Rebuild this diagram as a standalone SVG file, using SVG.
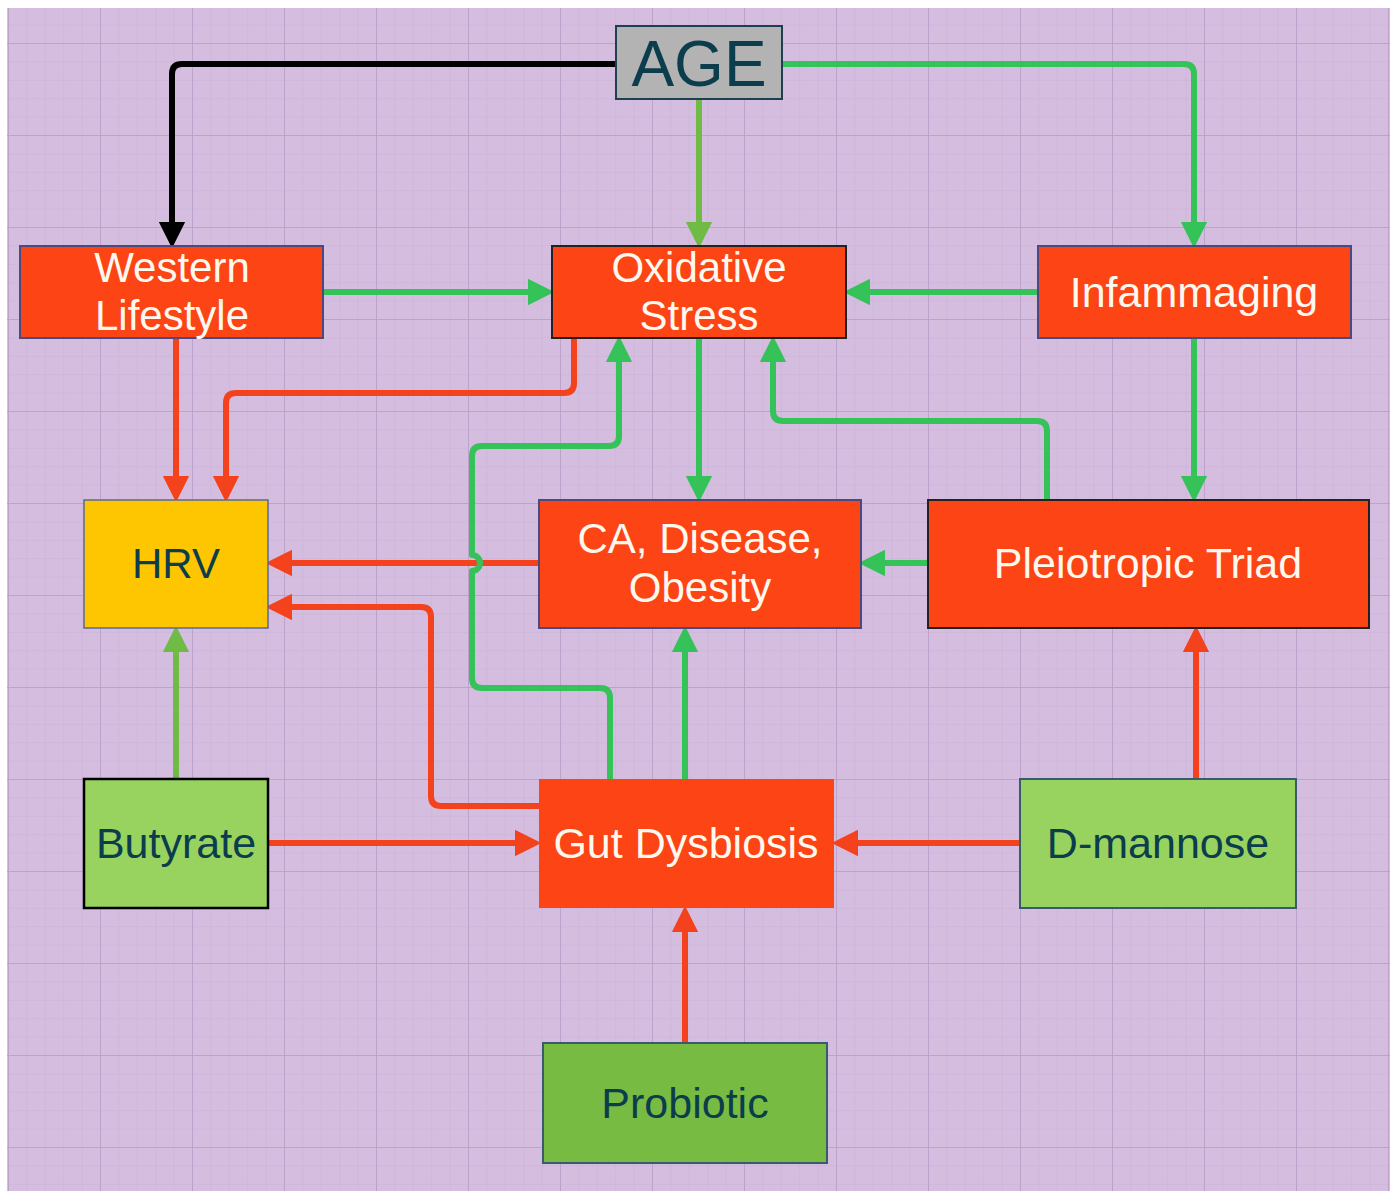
<svg xmlns="http://www.w3.org/2000/svg" width="1396" height="1191" viewBox="0 0 1396 1191">
<style>
.t{font-family:"Liberation Sans",Arial,sans-serif;text-anchor:middle}
.w{fill:#fff8ef}
.d{fill:#0c3d4c}
.red{fill:#fc4414}
.c{fill:none;stroke-width:6;stroke-linejoin:round}
.cr{stroke:#f4421c}
.cg{stroke:#35c258}
.co{stroke:#6fbb46}
.ck{stroke:#000}
</style>
<defs>
<pattern id="minor" x="8" y="43" width="18.4" height="18.4" patternUnits="userSpaceOnUse">
<path d="M0,0 H18.4 M0,0 V18.4" stroke="#c9aed6" stroke-width="1" fill="none"/>
</pattern>
<pattern id="major" x="8" y="43" width="92" height="92" patternUnits="userSpaceOnUse">
<path d="M0,0 H92 M0,0 V92" stroke="#b99cc8" stroke-width="1.5" fill="none"/>
</pattern>
<marker id="ar" viewBox="0 0 26 26" refX="2" refY="13" markerWidth="26" markerHeight="26" markerUnits="userSpaceOnUse" orient="auto"><path d="M0,1 L24,13 L0,25 Z" fill="#f4421c" stroke="#f4421c" stroke-width="2" stroke-linejoin="round"/></marker>
<marker id="ag" viewBox="0 0 26 26" refX="2" refY="13" markerWidth="26" markerHeight="26" markerUnits="userSpaceOnUse" orient="auto"><path d="M0,1 L24,13 L0,25 Z" fill="#35c258" stroke="#35c258" stroke-width="2" stroke-linejoin="round"/></marker>
<marker id="ao" viewBox="0 0 26 26" refX="2" refY="13" markerWidth="26" markerHeight="26" markerUnits="userSpaceOnUse" orient="auto"><path d="M0,1 L24,13 L0,25 Z" fill="#6fbb46" stroke="#6fbb46" stroke-width="2" stroke-linejoin="round"/></marker>
<marker id="ak" viewBox="0 0 26 26" refX="2" refY="13" markerWidth="26" markerHeight="26" markerUnits="userSpaceOnUse" orient="auto"><path d="M0,1 L24,13 L0,25 Z" fill="#000" stroke="#000" stroke-width="2" stroke-linejoin="round"/></marker>
</defs>
<rect x="0" y="0" width="1396" height="1191" fill="#ffffff"/>
<rect x="7" y="8" width="1383" height="1183" fill="#d5bde0"/>
<rect x="7" y="8" width="1383" height="1183" fill="url(#minor)"/>
<rect x="7" y="8" width="1383" height="1183" fill="url(#major)"/>

<g id="connectors">
<path class="c ck" d="M616,64 H182 Q172,64 172,74 V224" marker-end="url(#ak)"/>
<path class="c co" d="M699,99 V224" marker-end="url(#ao)"/>
<path class="c cg" d="M782,64 H1184 Q1194,64 1194,74 V224" marker-end="url(#ag)"/>
<path class="c cg" d="M323,292 H530" marker-end="url(#ag)"/>
<path class="c cg" d="M1038,292 H868" marker-end="url(#ag)"/>
<path class="c cr" d="M176,338 V478" marker-end="url(#ar)"/>
<path class="c cr" d="M574,338 V383 Q574,393 564,393 H236 Q226,393 226,403 V478" marker-end="url(#ar)"/>
<path class="c cg" d="M699,338 V478" marker-end="url(#ag)"/>
<path class="c cg" d="M1194,338 V478" marker-end="url(#ag)"/>
<path class="c cg" d="M1047,500 V431 Q1047,421 1037,421 H783 Q773,421 773,411 V360" marker-end="url(#ag)"/>
<path class="c cr" d="M539,563 H290" marker-end="url(#ar)"/>
<path class="c cg" d="M610,779 V698 Q610,688 600,688 H482 Q472,688 472,678 V571 A8,8 0 0 0 472,555 V456 Q472,446 482,446 H609 Q619,446 619,436 V360" marker-end="url(#ag)"/>
<path class="c cg" d="M928,563 H883" marker-end="url(#ag)"/>
<path class="c cr" d="M539,806 H441 Q431,806 431,796 V617 Q431,607 421,607 H290" marker-end="url(#ar)"/>
<path class="c cg" d="M685,779 V650" marker-end="url(#ag)"/>
<path class="c co" d="M176,779 V650" marker-end="url(#ao)"/>
<path class="c cr" d="M268,843 H517" marker-end="url(#ar)"/>
<path class="c cr" d="M1020,843 H856" marker-end="url(#ar)"/>
<path class="c cr" d="M1196,779 V650" marker-end="url(#ar)"/>
<path class="c cr" d="M685,1043 V930" marker-end="url(#ar)"/>
</g>

<g id="age">
<rect x="616" y="26" width="166" height="73" fill="#b3b3b3" stroke="#1d4050" stroke-width="2"/>
<text class="t d" x="699" y="86" font-size="64">AGE</text>
</g>
<g id="western-lifestyle">
<rect class="red" x="20" y="246" width="303" height="92" stroke="#4a4a80" stroke-width="2"/>
<text class="t w" x="172" y="282" font-size="42">Western</text>
<text class="t w" x="172" y="330" font-size="42">Lifestyle</text>
</g>
<g id="oxidative-stress">
<rect class="red" x="552" y="246" width="294" height="92" stroke="#222" stroke-width="2"/>
<text class="t w" x="699" y="282" font-size="42">Oxidative</text>
<text class="t w" x="699" y="330" font-size="42">Stress</text>
</g>
<g id="infammaging">
<rect class="red" x="1038" y="246" width="313" height="92" stroke="#4a4a80" stroke-width="2"/>
<text class="t w" x="1194" y="307" font-size="43">Infammaging</text>
</g>
<g id="hrv">
<rect x="84" y="500" width="184" height="128" fill="#fdc600" stroke="#5a6a90" stroke-width="1.5"/>
<text class="t d" x="176" y="578" font-size="42">HRV</text>
</g>
<g id="ca-disease-obesity">
<rect class="red" x="539" y="500" width="322" height="128" stroke="#4a4a80" stroke-width="2"/>
<text class="t w" x="700" y="553" font-size="42">CA, Disease,</text>
<text class="t w" x="700" y="602" font-size="42">Obesity</text>
</g>
<g id="pleiotropic-triad">
<rect class="red" x="928" y="500" width="441" height="128" stroke="#222" stroke-width="2"/>
<text class="t w" x="1148" y="578" font-size="43">Pleiotropic Triad</text>
</g>
<g id="butyrate">
<rect x="84" y="779" width="184" height="129" fill="#97d35e" stroke="#000" stroke-width="2.5"/>
<text class="t d" x="176" y="858" font-size="43">Butyrate</text>
</g>
<g id="gut-dysbiosis">
<rect class="red" x="539" y="779" width="295" height="129"/>
<text class="t w" x="686" y="858" font-size="43">Gut Dysbiosis</text>
</g>
<g id="d-mannose">
<rect x="1020" y="779" width="276" height="129" fill="#97d35e" stroke="#3a5a70" stroke-width="2"/>
<text class="t d" x="1158" y="858" font-size="43">D-mannose</text>
</g>
<g id="probiotic">
<rect x="543" y="1043" width="284" height="120" fill="#77bb42" stroke="#3a5a70" stroke-width="2"/>
<text class="t d" x="685" y="1118" font-size="43">Probiotic</text>
</g>
</svg>
